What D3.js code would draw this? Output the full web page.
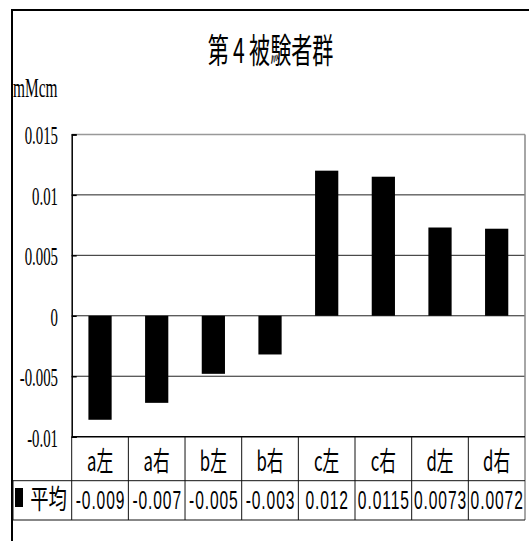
<!DOCTYPE html>
<html>
<head>
<meta charset="utf-8">
<script src="https://cdn.jsdelivr.net/npm/d3@7/dist/d3.min.js"></script>
<style>
  html, body { margin: 0; padding: 0; background: #fff; }
  svg { display: block; }
</style>
</head>
<body>
<div id="chart"></div>
<script>
// ---- data ----
const categories = ["a左", "a右", "b左", "b右", "c左", "c右", "d左", "d右"];
const values = [-0.0086, -0.0072, -0.0048, -0.0032, 0.012, 0.0115, 0.0073, 0.0072];
const tableLabels = ["-0.009", "-0.007", "-0.005", "-0.003", "0.012", "0.0115", "0.0073", "0.0072"];
const yTicks = [0.015, 0.01, 0.005, 0, -0.005, -0.01];
const yTickLabels = ["0.015", "0.01", "0.005", "0", "-0.005", "-0.01"];
const seriesName = "平均";
const titleParts = ["第", "4", "被験者群"];
const unitLabel = "mMcm";

// ---- layout ----
const W = 529, H = 541;
const plot = { left: 71.7, right: 525, top: 134.4, bottom: 436.7 };
const tableRow2 = { left: 13, top: 480.7, bottom: 520 };

const svg = d3.select("#chart").append("svg")
  .attr("width", W).attr("height", H);

svg.append("rect").attr("width", W).attr("height", H).attr("fill", "#fff");

// outer frame
svg.append("rect")
  .attr("x", 12).attr("y", 10)
  .attr("width", W + 20).attr("height", H + 20)
  .attr("fill", "none").attr("stroke", "#000").attr("stroke-width", 2);

const x = d3.scaleBand().domain(categories).range([plot.left, plot.right]).padding(0);
const y = d3.scaleLinear().domain([-0.01, 0.015]).range([plot.bottom, plot.top]);

const serif = "'Liberation Serif', 'Times New Roman', serif";
const sans = "'Noto Sans CJK JP', 'Noto Sans', sans-serif";

function label(g, txt, px, py, opts) {
  const t = g.append("text")
    .attr("transform", `translate(${px},${py}) scale(${opts.sx || 1},1)`)
    .attr("text-anchor", opts.anchor || "middle")
    .attr("font-family", opts.font || sans)
    .attr("font-size", opts.size || 14)
    .attr("fill", "#000")
    .text(txt);
  if (opts.ls) t.attr("letter-spacing", opts.ls);
  return t;
}

// title
const title = svg.append("text")
  .attr("transform", `translate(270.5,63) scale(0.62,1)`)
  .attr("text-anchor", "middle")
  .attr("font-family", sans)
  .attr("font-size", 34)
  .attr("fill", "#000");
title.append("tspan").text(titleParts[0]);
title.append("tspan").attr("dx", 7).text(titleParts[1]);
title.append("tspan").attr("dx", 7).text(titleParts[2]);

// unit label
label(svg, unitLabel, 13, 96.5, { anchor: "start", font: serif, size: 27, sx: 0.57 });

// gridlines (inner)
const grid = svg.append("g");
grid.selectAll("line.grid")
  .data(yTicks.filter(d => d < 0.015 && d > -0.01))
  .join("line")
  .attr("x1", plot.left).attr("x2", plot.right)
  .attr("y1", d => y(d)).attr("y2", d => y(d))
  .attr("stroke", "#222").attr("stroke-width", 1);

// plot border top/right gray
svg.append("line").attr("x1", plot.left).attr("x2", plot.right)
  .attr("y1", y(0.015)).attr("y2", y(0.015))
  .attr("stroke", "#999").attr("stroke-width", 1.5);
svg.append("line").attr("x1", plot.right).attr("x2", plot.right)
  .attr("y1", y(0.015)).attr("y2", tableRow2.bottom)
  .attr("stroke", "#888").attr("stroke-width", 1.5);

// bars
const barW = x.bandwidth() * 0.41;
svg.append("g").selectAll("rect")
  .data(values)
  .join("rect")
  .attr("x", (d, i) => x(categories[i]) + (x.bandwidth() - barW) / 2)
  .attr("y", d => y(Math.max(0, d)))
  .attr("width", barW)
  .attr("height", d => Math.abs(y(d) - y(0)))
  .attr("fill", "#000");

// y axis
const yAxis = d3.axisLeft(y).tickValues(yTicks).tickSize(-5).tickFormat("");
const yg = svg.append("g").attr("transform", `translate(${plot.left},0)`).call(yAxis);
yg.select(".domain").attr("stroke", "#000").attr("stroke-width", 1.5);
yg.selectAll(".tick line").attr("stroke", "#000").attr("stroke-width", 1.5);

// y tick labels
yTicks.forEach((t, i) => {
  label(svg, yTickLabels[i], 58, y(t) + 10, { anchor: "end", font: serif, size: 26, sx: 0.57 });
});

// data table
const tg = svg.append("g").attr("stroke", "#111").attr("stroke-width", 1).attr("fill", "none");
tg.append("line").attr("x1", plot.left).attr("x2", plot.right)
  .attr("y1", plot.bottom).attr("y2", plot.bottom).attr("stroke", "#000").attr("stroke-width", 1.5);
tg.append("line").attr("x1", tableRow2.left).attr("x2", plot.right)
  .attr("y1", tableRow2.top).attr("y2", tableRow2.top);
tg.append("line").attr("x1", tableRow2.left).attr("x2", plot.right)
  .attr("y1", tableRow2.bottom).attr("y2", tableRow2.bottom);
tg.append("line").attr("x1", tableRow2.left).attr("x2", tableRow2.left)
  .attr("y1", tableRow2.top).attr("y2", tableRow2.bottom);
tg.selectAll("line.sep")
  .data(categories)
  .join("line")
  .attr("x1", d => x(d)).attr("x2", d => x(d))
  .attr("y1", plot.bottom).attr("y2", tableRow2.bottom);

// category labels
categories.forEach(c => {
  label(svg, c, x(c) + x.bandwidth() / 2, 471, { size: 27, sx: 0.62 });
});
// values row
tableLabels.forEach((v, i) => {
  label(svg, v, x(categories[i]) + x.bandwidth() / 2 + 0.5, 509, { size: 26, sx: 0.6, font: "'Liberation Sans', Arial, sans-serif", ls: 1.5 });
});
// legend key + series name
svg.append("rect").attr("x", 15).attr("y", 488).attr("width", 8).attr("height", 19).attr("fill", "#000");
label(svg, seriesName, 48.5, 509, { size: 27, sx: 0.68 });
</script>
</body>
</html>
